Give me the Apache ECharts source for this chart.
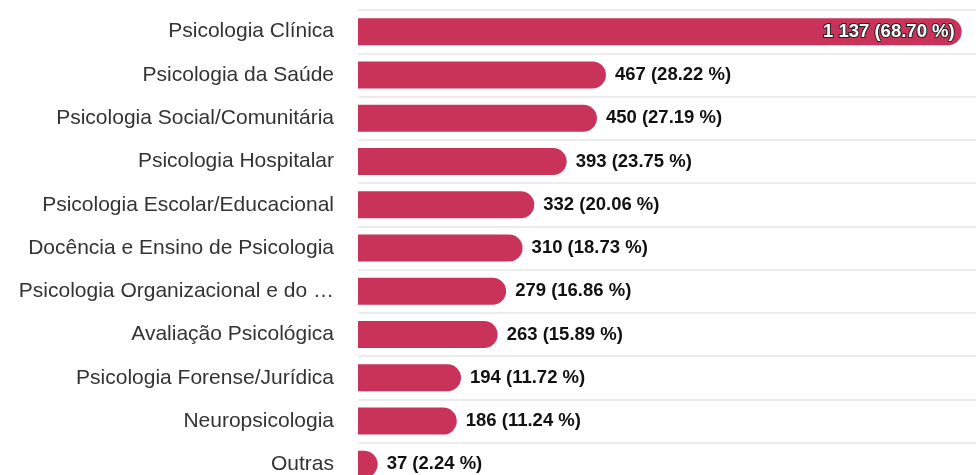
<!DOCTYPE html>
<html lang="pt">
<head>
    <meta charset="UTF-8">
    <script src="https://cdn.jsdelivr.net/npm/echarts@6/dist/echarts.min.js"></script>
    <title>Áreas</title>
    <style>
        body { margin: 0; background: #fff; }
    </style>
</head>
<body>
<div id="main" style="width: 976px;height:475px;"></div>
<script type="text/javascript">
    // dados
    var categorias = [
        'Psicologia Clínica',
        'Psicologia da Saúde',
        'Psicologia Social/Comunitária',
        'Psicologia Hospitalar',
        'Psicologia Escolar/Educacional',
        'Docência e Ensino de Psicologia',
        'Psicologia Organizacional e do …',
        'Avaliação Psicológica',
        'Psicologia Forense/Jurídica',
        'Neuropsicologia',
        'Outras'
    ];
    var valores = [1137, 467, 450, 393, 332, 310, 279, 263, 194, 186, 37];
    var percentuais = ['68.70', '28.22', '27.19', '23.75', '20.06', '18.73', '16.86', '15.89', '11.72', '11.24', '2.24'];

    function rotulo(i) {
        var v = String(valores[i]).replace(/\B(?=(\d{3})+(?!\d))/g, ' ');
        return v + ' (' + percentuais[i] + ' %)';
    }

    var myChart = echarts.init(document.getElementById('main'));

    var dados = valores.map(function (v, i) {
        var item = { value: v };
        if (i === 0) {
            item.label = {
                position: 'insideRight',
                color: '#fff',
                textBorderColor: '#222',
                textBorderWidth: 2,
                distance: 7
            };
        }
        return item;
    });

    var option = {
        animation: false,
        grid: {
            left: 358,
            top: 10,
            width: 618,
            height: 476,
            outerBoundsMode: 'none'
        },
        xAxis: {
            type: 'value',
            min: 0,
            max: 1164,
            show: false
        },
        yAxis: {
            type: 'category',
            inverse: true,
            data: categorias,
            axisLine: { show: false },
            axisTick: { show: false },
            axisLabel: {
                margin: 24,
                fontSize: 21,
                color: '#333',
                fontFamily: 'Liberation Sans, Arial, sans-serif'
            },
            splitLine: {
                show: true,
                lineStyle: { color: '#e6e6e6', width: 1.5 }
            }
        },
        series: [{
            type: 'bar',
            data: dados,
            barWidth: 27,
            itemStyle: {
                color: '#c9335a',
                borderRadius: [0, 14, 14, 0]
            },
            label: {
                show: true,
                position: 'right',
                distance: 9,
                fontSize: 18.5,
                fontWeight: 'bold',
                color: '#111',
                fontFamily: 'Liberation Sans, Arial, sans-serif',
                formatter: function (p) { return rotulo(p.dataIndex); }
            }
        }]
    };

    myChart.setOption(option);
</script>
</body>
</html>
